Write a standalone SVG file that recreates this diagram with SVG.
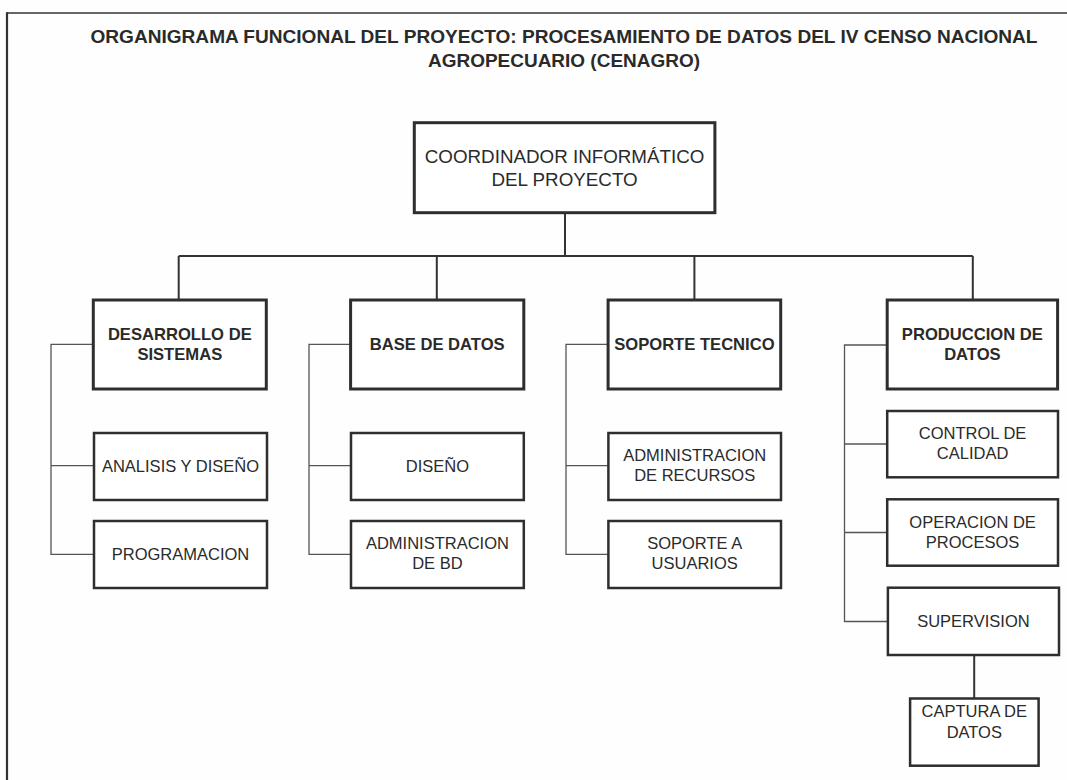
<svg xmlns="http://www.w3.org/2000/svg" width="1067" height="780" viewBox="0 0 1067 780">
<style>
.t{font-family:"Liberation Sans",Arial,sans-serif;fill:#2a2a2a;text-anchor:middle}
.title{font-size:18.8px;font-weight:bold}
.root{font-size:18.8px}
.l2{font-size:16.6px;font-weight:bold}
.l3{font-size:16.5px}
.b2{fill:#fff;stroke:#2e2e2e;stroke-width:3}
.b3{fill:#fff;stroke:#2e2e2e;stroke-width:2.5}
.c{fill:none;stroke:#333;stroke-width:2}
.br{fill:none;stroke:#555;stroke-width:1.3}
</style>
<rect width="1067" height="780" fill="#fefefe"/>
<g id="frame">
<line x1="7" y1="13" x2="1067" y2="13" stroke="#333" stroke-width="1.6"/>
<line x1="7" y1="12.2" x2="7" y2="780" stroke="#333" stroke-width="2.2"/>
</g>
<g id="title">
<text class="t title" x="564" y="43" textLength="947" lengthAdjust="spacingAndGlyphs">ORGANIGRAMA FUNCIONAL DEL PROYECTO: PROCESAMIENTO DE DATOS DEL IV CENSO NACIONAL</text>
<text class="t title" x="564" y="66.5" textLength="272" lengthAdjust="spacingAndGlyphs">AGROPECUARIO (CENAGRO)</text>
</g>
<g id="connectors">
<path class="c" d="M565 213V256M178.7 256H972.8M178.7 256V300M436.8 256V300M694.4 256V300M972.8 256V300"/>
<path class="c" d="M974.2 655V698.5"/>
<path class="br" d="M93 344.3H51V554.3H94M51 465.7H94"/>
<path class="br" d="M350.6 344.3H309V554.3H351M309 465.7H351"/>
<path class="br" d="M608 344.3H566V554.3H608M566 465.7H608"/>
<path class="br" d="M887 345H844.5V621.5H888M844.5 444H887M844.5 532.5H887"/>
</g>
<g id="n-root">
<rect class="b2" x="414.3" y="122.7" width="300.6" height="90"/>
<text class="t root" x="564.6" y="162.7">COORDINADOR INFORMÁTICO</text>
<text class="t root" x="564.6" y="185.7">DEL PROYECTO</text>
</g>
<g id="n-desarrollo">
<rect class="b2" x="93.3" y="300" width="173" height="89"/>
<text class="t l2" x="179.8" y="340">DESARROLLO DE</text>
<text class="t l2" x="179.8" y="360">SISTEMAS</text>
</g>
<g id="n-base">
<rect class="b2" x="350.6" y="300" width="173.2" height="89"/>
<text class="t l2" x="437.2" y="350">BASE DE DATOS</text>
</g>
<g id="n-soporte">
<rect class="b2" x="608.1" y="300" width="172.6" height="89"/>
<text class="t l2" x="694.4" y="350">SOPORTE TECNICO</text>
</g>
<g id="n-produccion">
<rect class="b2" x="887.2" y="300" width="170.4" height="89"/>
<text class="t l2" x="972.4" y="340">PRODUCCION DE</text>
<text class="t l2" x="972.4" y="360">DATOS</text>
</g>
<g id="n-analisis">
<rect class="b3" x="94" y="433" width="173" height="67"/>
<text class="t l3" x="180.5" y="471.7">ANALISIS Y DISEÑO</text>
</g>
<g id="n-programacion">
<rect class="b3" x="94" y="521" width="173" height="67"/>
<text class="t l3" x="180.5" y="560">PROGRAMACION</text>
</g>
<g id="n-diseno">
<rect class="b3" x="351" y="433" width="172.8" height="67"/>
<text class="t l3" x="437.4" y="471.7">DISEÑO</text>
</g>
<g id="n-adminbd">
<rect class="b3" x="351" y="521" width="172.8" height="67"/>
<text class="t l3" x="437.4" y="549.3">ADMINISTRACION</text>
<text class="t l3" x="437.4" y="569.3">DE BD</text>
</g>
<g id="n-adminrec">
<rect class="b3" x="608.4" y="433" width="172.6" height="67"/>
<text class="t l3" x="694.7" y="461">ADMINISTRACION</text>
<text class="t l3" x="694.7" y="481">DE RECURSOS</text>
</g>
<g id="n-soporteusr">
<rect class="b3" x="608.4" y="521" width="172.6" height="67"/>
<text class="t l3" x="694.7" y="549.3">SOPORTE A</text>
<text class="t l3" x="694.7" y="569.3">USUARIOS</text>
</g>
<g id="n-control">
<rect class="b3" x="887.2" y="411" width="170.8" height="66.3"/>
<text class="t l3" x="972.6" y="438.7">CONTROL DE</text>
<text class="t l3" x="972.6" y="459.3">CALIDAD</text>
</g>
<g id="n-operacion">
<rect class="b3" x="887.2" y="499.3" width="170.8" height="66.4"/>
<text class="t l3" x="972.6" y="527.7">OPERACION DE</text>
<text class="t l3" x="972.6" y="548.3">PROCESOS</text>
</g>
<g id="n-supervision">
<rect class="b3" x="887.9" y="587.7" width="171.1" height="67.3"/>
<text class="t l3" x="973.4" y="626.7">SUPERVISION</text>
</g>
<g id="n-captura">
<rect class="b3" x="910.1" y="698.5" width="128.5" height="67.2"/>
<text class="t l3" x="974.3" y="717.3">CAPTURA DE</text>
<text class="t l3" x="974.3" y="737.7">DATOS</text>
</g>
</svg>
